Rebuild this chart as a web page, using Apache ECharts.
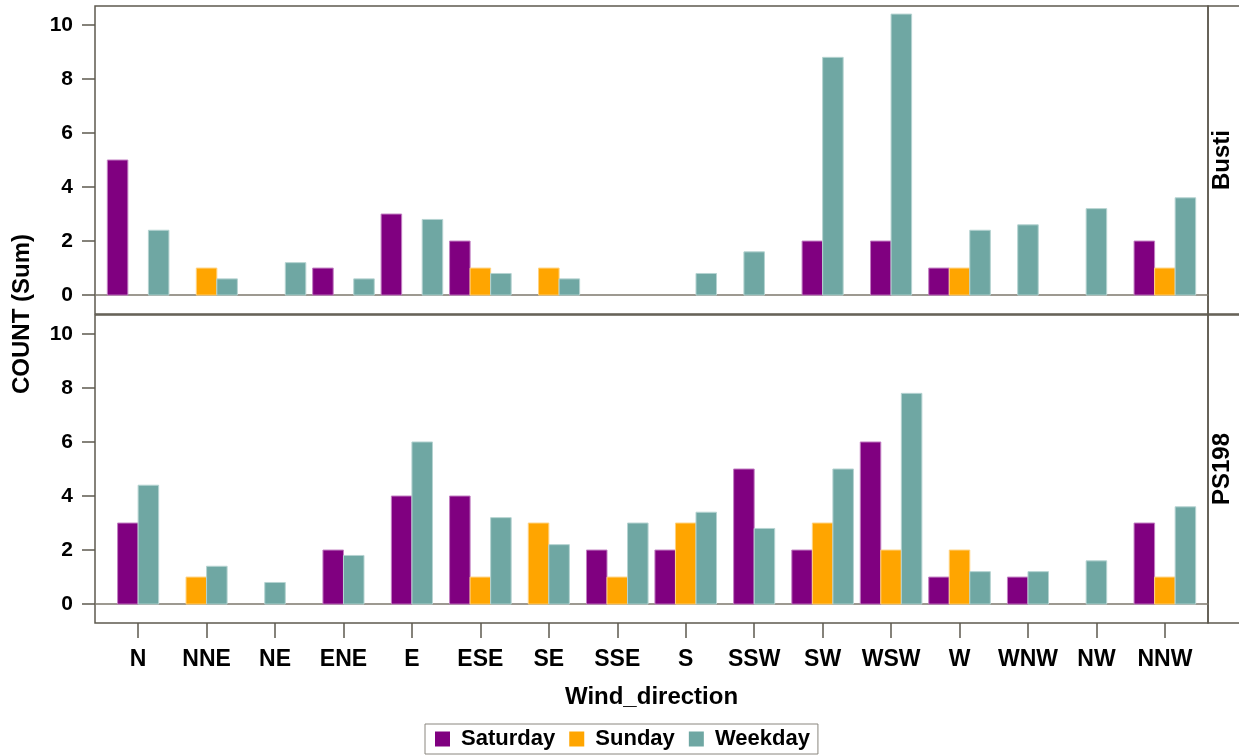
<!DOCTYPE html>
<html>
<head>
<meta charset="utf-8">
<title>COUNT (Sum) by Wind_direction</title>
<script src="https://cdn.jsdelivr.net/npm/echarts@6/dist/echarts.min.js"></script>
<style>
  html, body { margin: 0; padding: 0; background: #ffffff; }
  #chart { width: 1239px; height: 755px; }
</style>
</head>
<body>
<div id="chart"></div>
<script>
// Wind directions along the horizontal axis
const directions = ['N', 'NNE', 'NE', 'ENE', 'E', 'ESE', 'SE', 'SSE', 'S', 'SSW', 'SW', 'WSW', 'W', 'WNW', 'NW', 'NNW'];
const groups = ['Saturday', 'Sunday', 'Weekday'];
const panelNames = ['Busti', 'PS198'];
const yTicks = [0, 2, 4, 6, 8, 10];

// COUNT sums per direction. null = group not present in that cell (no bar slot),
// 0 = group present with a zero sum (slot kept, nothing visible).
const bustiSaturday = [5, 0, 0, 1, 3, 2, 0, null, 0, null, 2, 2, 1, null, null, 2];
const bustiSunday   = [0, 1, 0, 0, 0, 1, 1, null, 0, null, null, null, 1, null, null, 1];
const bustiWeekday  = [2.4, 0.6, 1.2, 0.6, 2.8, 0.8, 0.6, null, 0.8, 1.6, 8.8, 10.4, 2.4, 2.6, 3.2, 3.6];

const ps198Saturday = [3, null, null, 2, 4, 4, null, 2, 2, 5, 2, 6, 1, 1, null, 3];
const ps198Sunday   = [null, 1, null, null, null, 1, 3, 1, 3, null, 3, 2, 2, null, null, 1];
const ps198Weekday  = [4.4, 1.4, 0.8, 1.8, 6, 3.2, 2.2, 3, 3.4, 2.8, 5, 7.8, 1.2, 1.2, 1.6, 3.6];

const panelData = [
  [bustiSaturday, bustiSunday, bustiWeekday],
  [ps198Saturday, ps198Sunday, ps198Weekday]
];

const colors = ['#800080', '#FFA500', '#6FA7A3'];
const edges = ['#C27FC2', '#FFD27F', '#B5D3D1'];
const frameColor = '#5E594F';
const zeroColor = '#7D786E';
const FONT = '"Liberation Sans", Arial, sans-serif';

const BAR_SPAN = 0.3;          // bar width in category units
const X_MIN = -0.63, X_MAX = 15.63;
const Y_MIN = -0.7, Y_MAX = 10.7;

// Bars in a cell are clustered only over the groups present in that cell
function makeRender(panelIdx, groupIdx) {
  const cols = panelData[panelIdx];
  return function (params, api) {
    const cat = api.value(0);
    const val = api.value(1);
    if (!(val > 0)) return null;
    const present = cols.map(arr => arr[cat] !== null);
    const nSlots = present.filter(Boolean).length;
    let slot = 0;
    for (let k = 0; k < groupIdx; k++) if (present[k]) slot++;
    const w = api.size([BAR_SPAN, 0])[0];
    const top = api.coord([cat, val]);
    const base = api.coord([cat, 0]);
    const x = top[0] + (slot - (nSlots - 1) / 2) * w - w / 2;
    return {
      type: 'rect',
      shape: { x: x, y: top[1], width: w, height: base[1] - top[1] },
      style: { fill: colors[groupIdx], stroke: edges[groupIdx], lineWidth: 1 }
    };
  };
}

const grids = [
  { left: 95, top: 6, width: 1113, height: 308 },
  { left: 95, top: 315, width: 1113, height: 308 }
].map(g => Object.assign(g, { show: true, borderColor: frameColor, borderWidth: 1.5, backgroundColor: '#ffffff' }));

const xAxes = [];
const yAxes = [];
panelNames.forEach((name, p) => {
  const isBottom = p === panelNames.length - 1;
  // direction axis (ticks + labels only on the lowest panel)
  xAxes.push({
    gridIndex: p, type: 'value', min: X_MIN, max: X_MAX, position: 'bottom',
    splitLine: { show: false },
    axisLine: { show: false, onZero: false },
    axisTick: { show: isBottom, length: 15, customValues: directions.map((d, i) => i),
                lineStyle: { color: frameColor, width: 1.5 } },
    axisLabel: { show: isBottom, customValues: directions.map((d, i) => i),
                 formatter: v => directions[Math.round(v)] || '',
                 margin: 25, fontSize: 23, fontWeight: 'bold', color: '#000', fontFamily: FONT },
    name: isBottom ? 'Wind_direction' : '',
    nameLocation: 'middle', nameGap: 62,
    nameTextStyle: { fontSize: 24, fontWeight: 'bold', color: '#000', fontFamily: FONT }
  });
  // zero baseline across the panel
  xAxes.push({
    gridIndex: p, type: 'value', min: X_MIN, max: X_MAX,
    splitLine: { show: false },
    axisLine: { show: true, onZero: true, lineStyle: { color: zeroColor, width: 1.5 } },
    axisTick: { show: false }, axisLabel: { show: false }
  });
  yAxes.push({
    gridIndex: p, type: 'value', min: Y_MIN, max: Y_MAX, position: 'left',
    splitLine: { show: false },
    axisLine: { show: false, onZero: false },
    axisTick: { show: true, length: 13, customValues: yTicks, lineStyle: { color: frameColor, width: 1.5 } },
    axisLabel: { customValues: yTicks, margin: 22, fontSize: 21, fontWeight: 'bold', color: '#000', fontFamily: FONT }
  });
});

const series = [];
panelNames.forEach((name, p) => {
  groups.forEach((grp, g) => {
    const values = panelData[p][g];
    const data = [];
    values.forEach((v, i) => { if (v !== null) data.push([i, v]); });
    series.push({
      name: grp,
      type: 'custom',
      xAxisIndex: p * 2,
      yAxisIndex: p,
      renderItem: makeRender(p, g),
      encode: { x: 0, y: 1 },
      itemStyle: { color: colors[g] },
      data: data,
      silent: true,
      z: 3
    });
  });
});

const graphics = [
  {
    type: 'text', x: 22, y: 314, rotation: Math.PI / 2,
    style: { text: 'COUNT (Sum)', font: 'bold 24px ' + FONT, fill: '#000', align: 'center', verticalAlign: 'middle' }
  }
];
grids.forEach((g, p) => {
  graphics.push({
    type: 'rect', shape: { x: g.left + g.width, y: g.top, width: 60, height: g.height },
    style: { fill: 'none', stroke: frameColor, lineWidth: 1.5 }
  });
  graphics.push({
    type: 'text', x: g.left + g.width + 14, y: g.top + g.height / 2, rotation: Math.PI / 2,
    style: { text: panelNames[p], font: 'bold 24px ' + FONT, fill: '#000', align: 'center', verticalAlign: 'middle' }
  });
});

const chart = echarts.init(document.getElementById('chart'), null, { renderer: 'canvas' });
chart.setOption({
  animation: false,
  backgroundColor: '#ffffff',
  grid: grids,
  xAxis: xAxes,
  yAxis: yAxes,
  series: series,
  graphic: graphics,
  legend: {
    data: groups.map(g => ({ name: g, icon: 'rect' })),
    formatter: name => ' ' + name,
    left: 425, top: 724,
    itemWidth: 15, itemHeight: 15, itemGap: 14,
    padding: [4, 8, 4, 10],
    borderColor: '#8A867E', borderWidth: 1,
    selectedMode: false,
    textStyle: { fontSize: 22, fontWeight: 'bold', color: '#000', fontFamily: FONT }
  }
});
</script>
</body>
</html>
